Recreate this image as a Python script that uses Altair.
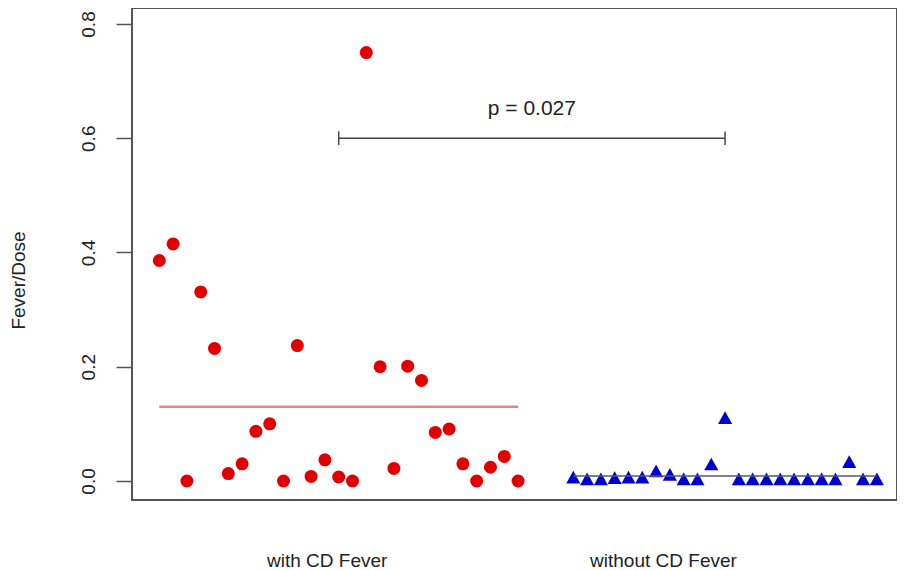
import altair as alt
import pandas as pd

# ---- data ----
with_idx = list(range(1, 28))
with_val = [0.386, 0.415, 0.0, 0.331, 0.232, 0.013, 0.030, 0.087, 0.100, 0.0,
            0.237, 0.008, 0.037, 0.007, 0.0, 0.750, 0.200, 0.022, 0.201, 0.176,
            0.085, 0.091, 0.030, 0.0, 0.024, 0.043, 0.0]
without_idx = list(range(31, 54))
without_val = [0.003, 0.0, 0.0, 0.002, 0.003, 0.003, 0.014, 0.008, 0.0, 0.0,
               0.026, 0.107, 0.0, 0.0, 0.0, 0.0, 0.0, 0.0, 0.0, 0.0,
               0.030, 0.0, 0.0]

group_names = ["with CD Fever", "without CD Fever"]
group_label_pos = [13.13, 37.5]
y_ticks = [0.0, 0.2, 0.4, 0.6, 0.8]
bracket_ends = [14, 42]
bracket_level = 0.6
bracket_cap = 0.012
p_text = "p = 0.027"
p_level = 0.641

FONT = "Liberation Sans"
RED = "#E00000"
BLUE = "#0000D0"

pts_with = pd.DataFrame({"x": with_idx, "y": with_val})
pts_without = pd.DataFrame({"x": without_idx, "y": without_val})
mean_with = pd.DataFrame({"x": [with_idx[0]], "x2": [with_idx[-1]],
                          "y": [sum(with_val) / len(with_val)]})
mean_without = pd.DataFrame({"x": [without_idx[0]], "x2": [without_idx[-1]],
                             "y": [sum(without_val) / len(without_val)]})
bracket = pd.DataFrame({"x": [bracket_ends[0]], "x2": [bracket_ends[1]], "y": [bracket_level]})
caps = pd.DataFrame({"x": bracket_ends,
                     "y": [bracket_level - bracket_cap] * 2,
                     "y2": [bracket_level + bracket_cap] * 2})
ptxt = pd.DataFrame({"x": [sum(bracket_ends) / 2], "y": [p_level], "t": [p_text]})

xscale = alt.Scale(domain=[-0.98, 54.46], nice=False, zero=False)
yscale = alt.Scale(domain=[-0.0333, 0.828], nice=False, zero=False)

label_expr = (f"datum.value < {sum(group_label_pos)/2} ? '{group_names[0]}' : '{group_names[1]}'")

x_axis = alt.Axis(values=group_label_pos, labelExpr=label_expr, ticks=False, tickSize=0,
                  domain=False, grid=False, labelPadding=66, labelBaseline="alphabetic",
                  labelFontSize=19, labelFont=FONT, labelColor="#222", title=None,
                  labelFlush=False, labelOverlap=False)
y_axis = alt.Axis(values=y_ticks, format=".1f", labelAngle=270, labelAlign="center",
                  labelBaseline="middle", labelPadding=28, tickSize=16, tickColor="#555",
                  tickWidth=1.5, domain=False, grid=False, labelFontSize=19, labelFont=FONT,
                  labelColor="#222", title="Fever/Dose", titleAngle=270, titleX=-114,
                  titleY=272, titleAlign="center", titleBaseline="middle", titleFontSize=19,
                  titleFont=FONT, titleFontWeight="normal", titleColor="#222")

red_pts = alt.Chart(pts_with).mark_point(
    shape="circle", filled=True, size=169, color=RED, opacity=1
)

tri = "M0,-1.2L1,0.6L-1,0.6Z"
blue_pts = alt.Chart(pts_without).mark_point(
    shape=tri, filled=True, size=200, color=BLUE, opacity=1
)

mean_red = alt.Chart(mean_with).mark_rule(color="#F08080", strokeWidth=2.5).encode(x2="x2:Q")
mean_blue = alt.Chart(mean_without).mark_rule(color="#55557A", strokeWidth=1.5).encode(x2="x2:Q")

br = alt.Chart(bracket).mark_rule(color="#444", strokeWidth=1.5).encode(x2="x2:Q")
br_caps = alt.Chart(caps).mark_rule(color="#444", strokeWidth=1.5).encode(y2="y2:Q")
ptext = alt.Chart(ptxt).mark_text(
    font=FONT, fontSize=21, color="#222", align="center", baseline="alphabetic"
).encode(text="t:N")

chart = alt.layer(
    red_pts, mean_red, blue_pts, mean_blue, br, br_caps, ptext
).encode(
    x=alt.X("x:Q", scale=xscale, axis=x_axis),
    y=alt.Y("y:Q", scale=yscale, axis=y_axis),
).properties(
    width=765, height=492,
    padding={"left": 124, "top": 0, "right": 0, "bottom": 70},
    autosize=alt.AutoSizeParams(type="none"),
    background="white",
).configure_view(
    stroke="#555", strokeWidth=2
)

chart.save("out.html", embed_options={"renderer": "svg", "actions": False})
